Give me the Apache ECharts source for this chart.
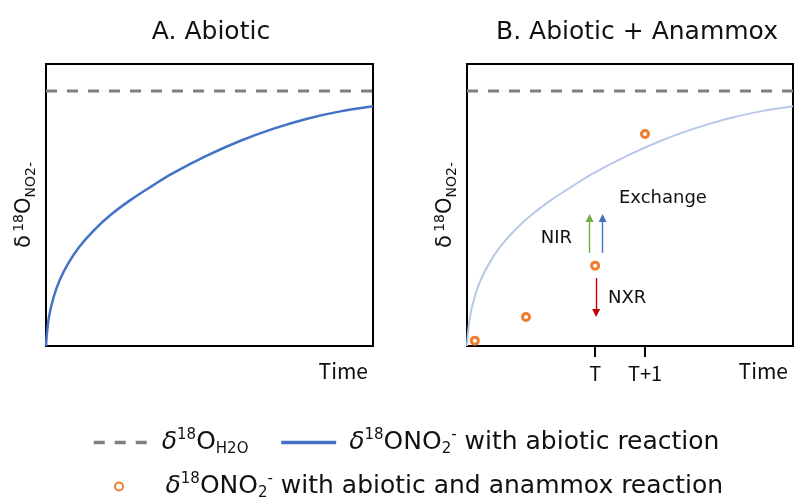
<!DOCTYPE html>
<html>
<head>
<meta charset="utf-8">
<script src="https://cdn.jsdelivr.net/npm/echarts@6/dist/echarts.min.js"></script>
<style>
  html, body { margin: 0; padding: 0; background: #fff; }
  #chart { width: 795px; height: 500px; }
</style>
</head>
<body>
<div id="chart"></div>
<script>
// Time (arbitrary units) and δ18O of nitrite under abiotic O exchange
const timeSteps  = [0, 0.02, 0.09, 0.23, 0.42, 0.68, 1.02, 1.48, 1.99, 2.6, 3.25, 3.87, 4.92, 5.93, 6.94, 7.99, 9.0, 10];
const abioticNO2 = [0, 0.33, 1.03, 1.72, 2.34, 2.93, 3.52, 4.12, 4.66, 5.19, 5.68, 6.12, 6.75, 7.27, 7.70, 8.06, 8.32, 8.50];

// δ18O of water (equilibrium level), drawn across the whole time range
const waterTime  = [0, 10];
const waterLevel = [9.04, 9.04];

// Nitrite δ18O with abiotic exchange plus anammox activity
const anammoxTime = [0.24, 1.81, 3.93, 5.46];
const anammoxNO2  = [0.19, 1.03, 2.85, 7.52];

// Time step ticks on panel B
const stepTimes  = [3.93, 5.46];
const stepLabels = ['T', 'T+1'];

// Process arrows: time, start value, end value
const processNames  = ['NIR', 'Exchange', 'NXR'];
const arrowTime     = [3.76, 4.16, 3.96];
const arrowFrom     = [3.30, 3.30, 2.41];
const arrowTo       = [4.54, 4.54, 1.17];
const arrowColors   = ['#70ad47', '#4472c4', '#c00000'];
// Process label anchors (time, value)
const labelTime     = [2.74, 6.01, 4.91];
const labelValue    = [3.83, 5.25, 1.70];

const SANS = 'DejaVu Sans';
const NARROW = 'Noto Sans CJK JP';
const INK = '#111';

const zip = (xs, ys) => xs.map((x, i) => [x, ys[i]]);

const yName = '{d|δ} {sup|18}{n|O}{sub|NO2-}';
const yRich = {
  d:   { fontFamily: SANS, fontSize: 21, color: INK, lineHeight: 26 },
  n:   { fontFamily: SANS, fontSize: 21, color: INK, lineHeight: 26 },
  sup: { fontFamily: SANS, fontSize: 14, color: INK, lineHeight: 14, verticalAlign: 'top' },
  sub: { fontFamily: SANS, fontSize: 14, color: INK, lineHeight: 14, verticalAlign: 'bottom' }
};

const legendRich = {
  d:   { fontFamily: SANS, fontSize: 25, fontStyle: 'italic', color: INK, lineHeight: 29 },
  n:   { fontFamily: SANS, fontSize: 25, color: INK, lineHeight: 29 },
  sup: { fontFamily: SANS, fontSize: 15, color: INK, lineHeight: 15, verticalAlign: 'top' },
  sub: { fontFamily: SANS, fontSize: 15, color: INK, lineHeight: 15, verticalAlign: 'bottom' }
};
const legendText = {
  'h2o':     '{d|δ}{sup|18}{n|O}{sub|H2O}',
  'abiotic': '{d|δ}{sup|18}{n|ONO}{sub|2}{sup|-}{n| with abiotic reaction}',
  'anammox': '{d|δ}{sup|18}{n|ONO}{sub|2}{sup|-}{n| with abiotic and anammox reaction}'
};

function valueAxis(grid, extra) {
  return Object.assign({
    type: 'value', gridIndex: grid, min: 0, max: 10,
    axisLine: { show: false }, axisTick: { show: false },
    axisLabel: { show: false }, splitLine: { show: false }
  }, extra);
}

const timeName = {
  name: 'Time', nameLocation: 'end', nameGap: -5,
  nameTextStyle: { fontFamily: NARROW, fontSize: 21, color: INK, align: 'right', verticalAlign: 'top', padding: [15, 0, 0, 0] }
};
const valueName = {
  name: yName, nameLocation: 'middle', nameRotate: 90, nameGap: 8,
  nameTextStyle: { rich: yRich }
};

const waterStyle = { color: '#7f7f7f', width: 3, type: [11, 10] };

const arrowLines = processNames.map((p, i) => [
  { coord: [arrowTime[i], arrowFrom[i]], lineStyle: { color: arrowColors[i], width: 1.4, type: 'solid' }, itemStyle: { color: arrowColors[i] } },
  { coord: [arrowTime[i], arrowTo[i]] }
]);

const hiddenSymbol = { color: 'rgba(0,0,0,0)', borderWidth: 0, opacity: 0 };
const curveSmooth = 0.35;

const option = {
  animation: false,
  backgroundColor: '#fff',
  title: [
    { text: 'A. Abiotic', left: 206, top: 15, textAlign: 'center',
      textStyle: { fontFamily: SANS, fontSize: 25, fontWeight: 'normal', color: INK } },
    { text: 'B. Abiotic + Anammox', left: 632, top: 15, textAlign: 'center',
      textStyle: { fontFamily: SANS, fontSize: 25, fontWeight: 'normal', color: INK } }
  ],
  grid: [
    { left: 46, top: 64, width: 327, height: 282, show: true, borderColor: '#000', borderWidth: 2, backgroundColor: 'transparent' },
    { left: 467, top: 64, width: 326, height: 282, show: true, borderColor: '#000', borderWidth: 2, backgroundColor: 'transparent' }
  ],
  xAxis: [
    valueAxis(0, timeName),
    valueAxis(1, Object.assign({}, timeName, {
      axisTick: { show: true, customValues: stepTimes, length: 11, lineStyle: { color: '#000', width: 2 } },
      axisLabel: {
        show: true, customValues: stepTimes, margin: 17,
        fontFamily: NARROW, fontSize: 20, color: INK,
        formatter: v => stepLabels[stepTimes.indexOf(v)]
      }
    }))
  ],
  yAxis: [valueAxis(0, valueName), valueAxis(1, valueName)],
  legend: [
    {
      left: 87, top: 423, orient: 'horizontal',
      data: ['h2o', 'abiotic'], itemWidth: 55, itemHeight: 14, itemGap: 31,
      formatter: n => legendText[n],
      itemStyle: hiddenSymbol,
      lineStyle: { width: 3.5 },
      textStyle: { padding: [0, 0, 0, 8], rich: legendRich }
    },
    {
      left: 109, top: 467, orient: 'horizontal',
      data: ['anammox'], itemWidth: 55, itemHeight: 8,
      formatter: n => legendText[n],
      itemStyle: { opacity: 1 },
      textStyle: { padding: [0, 0, 0, 14], rich: legendRich }
    }
  ],
  series: [
    { name: 'h2o', type: 'line', xAxisIndex: 0, yAxisIndex: 0, data: zip(waterTime, waterLevel),
      symbol: 'none', lineStyle: waterStyle, itemStyle: { color: '#7f7f7f' }, z: 3 },
    { name: 'abiotic', type: 'line', xAxisIndex: 0, yAxisIndex: 0, data: zip(timeSteps, abioticNO2),
      symbol: 'none', smooth: curveSmooth,
      lineStyle: { color: '#4472c4', width: 2.5 }, itemStyle: { color: '#4472c4' } },
    { name: 'h2o', type: 'line', xAxisIndex: 1, yAxisIndex: 1, data: zip(waterTime, waterLevel),
      symbol: 'none', lineStyle: waterStyle, itemStyle: { color: '#7f7f7f' }, z: 3 },
    { name: 'abiotic-faded', type: 'line', xAxisIndex: 1, yAxisIndex: 1, data: zip(timeSteps, abioticNO2),
      symbol: 'none', smooth: curveSmooth,
      lineStyle: { color: '#b8c9e8', width: 2 }, itemStyle: { color: '#b8c9e8' } },
    { name: 'anammox', type: 'scatter', xAxisIndex: 1, yAxisIndex: 1, data: zip(anammoxTime, anammoxNO2),
      symbol: 'circle', symbolSize: 7,
      itemStyle: { color: '#fff', borderColor: '#ed7d31', borderWidth: 3, opacity: 1 }, z: 5,
      markLine: {
        silent: true, symbol: ['none', 'triangle'], symbolSize: 8,
        label: { show: false }, emphasis: { disabled: true },
        data: arrowLines
      }
    },
    { name: 'process-labels', type: 'scatter', xAxisIndex: 1, yAxisIndex: 1,
      data: processNames.map((p, i) => ({ value: [labelTime[i], labelValue[i]], name: p })),
      symbolSize: 0, silent: true, itemStyle: { opacity: 1 },
      label: { show: true, position: [0, 0], align: 'center', verticalAlign: 'middle',
        formatter: '{b}', fontFamily: SANS, fontSize: 18, color: INK } }
  ]
};

const chart = echarts.init(document.getElementById('chart'), null, { renderer: 'canvas' });
chart.setOption(option);
</script>
</body>
</html>
